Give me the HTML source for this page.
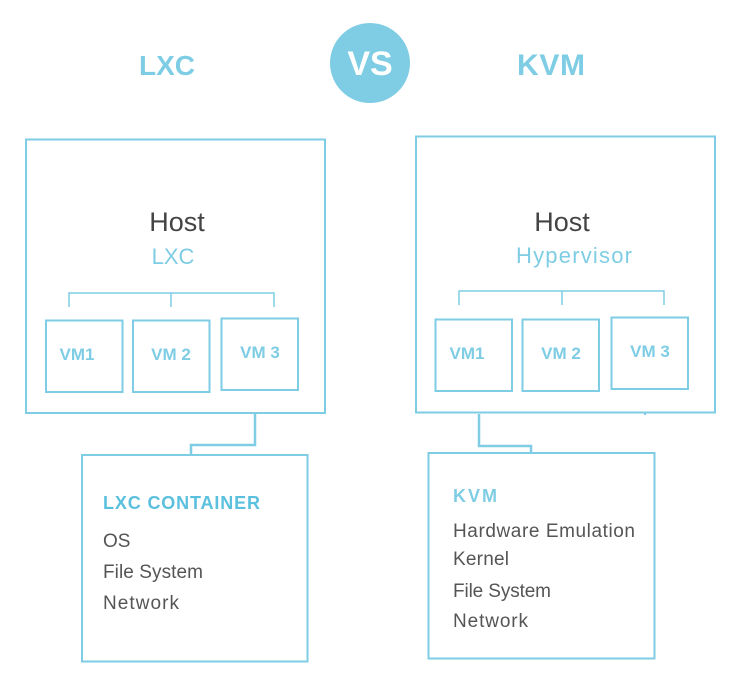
<!DOCTYPE html>
<html><head><meta charset="utf-8"><style>
html,body{margin:0;padding:0;background:#fff;}
svg{display:block;}
text{font-family:"Liberation Sans",sans-serif;}
</style></head><body>
<svg width="740" height="690" viewBox="0 0 740 690" xmlns="http://www.w3.org/2000/svg">
<g fill="none" stroke="#7ecde4" stroke-width="2">
<rect x="26" y="139.5" width="299" height="273.5"/>
<rect x="416" y="136.5" width="299" height="276"/>
<polyline points="69,307 69,293 274,293 274,307" stroke-width="1.5"/>
<line x1="171" y1="293" x2="171" y2="307" stroke-width="1.5"/>
<polyline points="459,305 459,291 664,291 664,305" stroke-width="1.5"/>
<line x1="562" y1="291" x2="562" y2="305" stroke-width="1.5"/>
<rect x="46" y="320.5" width="76.5" height="71.5"/>
<rect x="133" y="320.5" width="76.5" height="71.5"/>
<rect x="221.5" y="318.5" width="76.5" height="71.5"/>
<rect x="435.5" y="319.5" width="76.5" height="71.5"/>
<rect x="522.5" y="319.5" width="76.5" height="71.5"/>
<rect x="611.5" y="317.5" width="76.5" height="71.5"/>
<polyline points="255,413 255,445 191,445 191,455" stroke-width="2.5"/>
<polyline points="479,414 479,446 531,446 531,453" stroke-width="2.5"/>
<line x1="645" y1="412" x2="645" y2="415"/>
<rect x="82" y="455" width="225.5" height="206.5"/>
<rect x="428.5" y="453" width="226" height="205.5"/>
</g>
<circle cx="370" cy="63" r="40" fill="#7ecde4"/>
<text x="370" y="75" font-size="34" font-weight="bold" fill="#fff" text-anchor="middle">VS</text>
<text x="167" y="75" font-size="28" font-weight="bold" fill="#7ecde4" text-anchor="middle">LXC</text>
<text x="551" y="75" font-size="30" font-weight="bold" fill="#7ecde4" text-anchor="middle" textLength="68">KVM</text>
<text x="177" y="231" font-size="27" fill="#444" text-anchor="middle">Host</text>
<text x="173" y="264" font-size="22" fill="#7ecde4" text-anchor="middle">LXC</text>
<text x="562" y="231" font-size="27" fill="#444" text-anchor="middle">Host</text>
<text x="574" y="263" font-size="22" fill="#7ecde4" text-anchor="middle" textLength="116">Hypervisor</text>
<g font-size="17" font-weight="bold" fill="#7ecde4" text-anchor="middle">
<text x="77" y="360">VM1</text>
<text x="171" y="360">VM 2</text>
<text x="260" y="358">VM 3</text>
<text x="467" y="359">VM1</text>
<text x="561" y="359">VM 2</text>
<text x="650" y="357">VM 3</text>
</g>
<text x="103" y="509" font-size="18" font-weight="bold" fill="#5bc0de" textLength="157">LXC CONTAINER</text>
<g font-size="19" fill="#555">
<text x="103" y="547">OS</text>
<text x="103" y="578" textLength="100">File System</text>
<text x="103" y="609" textLength="76">Network</text>
</g>
<text x="453" y="502" font-size="18" font-weight="bold" fill="#7ecde4" textLength="44">KVM</text>
<g font-size="19" fill="#555">
<text x="453" y="537" textLength="182">Hardware Emulation</text>
<text x="453" y="565" textLength="56">Kernel</text>
<text x="453" y="597" textLength="98">File System</text>
<text x="453" y="627" textLength="75">Network</text>
</g>
</svg>
</body></html>
